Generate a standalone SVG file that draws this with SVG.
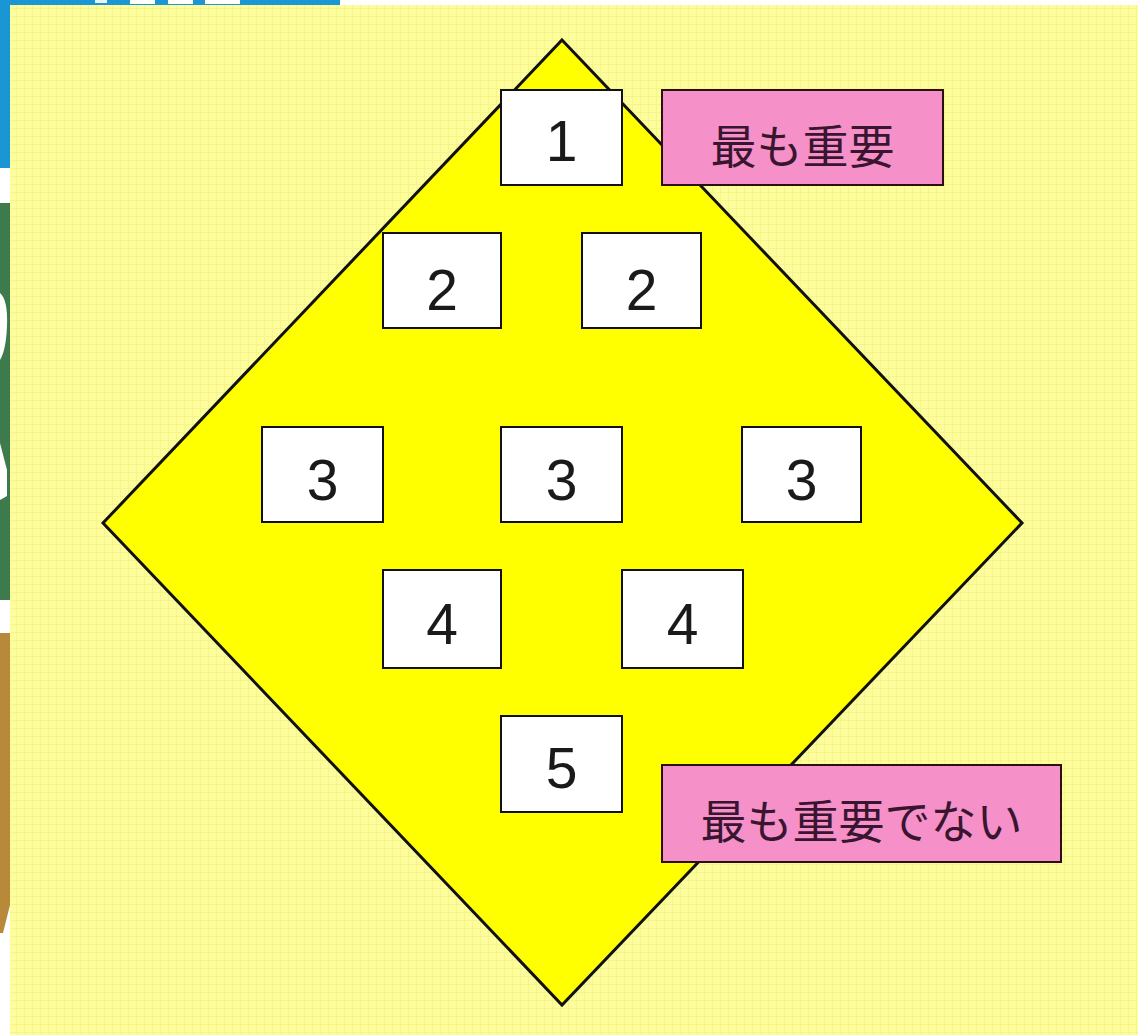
<svg xmlns="http://www.w3.org/2000/svg" width="1138" height="1035" viewBox="0 0 1138 1035">
<style>
.box{fill:#ffffff;stroke:#111111;stroke-width:2}
.num{font-family:"Liberation Sans",Arial,sans-serif;font-size:57px;fill:#1a1a1a;text-anchor:middle;dominant-baseline:central}
.lab{fill:#f590c8;stroke:#2a1010;stroke-width:2}
.jp{font-family:"Noto Sans CJK JP","Noto Sans",sans-serif;font-size:46px;fill:#3a1530;text-anchor:middle;dominant-baseline:central}
</style>
<defs>
<pattern id="grid" width="8" height="8" patternUnits="userSpaceOnUse">
<rect width="8" height="8" fill="#fdfd9e"/>
<path d="M0 0.5H8M0.5 0V8" stroke="#f2f27a" stroke-width="1" opacity="0.6"/>
</pattern>
</defs>
<rect width="1138" height="1035" fill="#ffffff"/>
<g id="edge-strips">
<rect x="0" y="0" width="340" height="5" fill="#1a96d4"/>
<rect x="95" y="0" width="12" height="3" fill="#e8f2fa"/>
<rect x="130" y="0" width="25" height="4" fill="#ffffff"/>
<rect x="168" y="0" width="25" height="4" fill="#ffffff"/>
<rect x="205" y="0" width="35" height="4" fill="#ffffff"/>
<rect x="0" y="0" width="10" height="168" fill="#1a96d4"/>
<rect x="0" y="203" width="10" height="397" fill="#3d7a4c"/>
<path d="M0 293 Q8 300 7 326 Q6 350 0 360 Z" fill="#ffffff"/>
<path d="M0 443 L7 470 L7 496 L0 500 Z" fill="#ffffff"/>
<path d="M0 633 L10 633 L10 905 L3 933 L0 933 Z" fill="#b8893a"/>
</g>
<rect x="10" y="5" width="1128" height="1030" fill="url(#grid)"/>
<g id="diamond">
<polygon points="562,40 1022,523 562,1005 103,523" fill="#ffff00" stroke="#111111" stroke-width="3" stroke-linejoin="miter"/>
</g>
<g id="connectors"></g>
<g id="n1"><rect class="box" x="501" y="90" width="121" height="95"/><text class="num" x="561.5" y="141">1</text></g>
<g id="n2a"><rect class="box" x="383" y="233" width="118" height="95"/><text class="num" x="442" y="290">2</text></g>
<g id="n2b"><rect class="box" x="582" y="233" width="119" height="95"/><text class="num" x="641.5" y="290">2</text></g>
<g id="n3a"><rect class="box" x="262" y="427" width="121" height="95"/><text class="num" x="322.5" y="480">3</text></g>
<g id="n3b"><rect class="box" x="501" y="427" width="121" height="95"/><text class="num" x="561.5" y="480">3</text></g>
<g id="n3c"><rect class="box" x="742" y="427" width="119" height="95"/><text class="num" x="801.5" y="480">3</text></g>
<g id="n4a"><rect class="box" x="383" y="570" width="118" height="98"/><text class="num" x="442" y="624">4</text></g>
<g id="n4b"><rect class="box" x="622" y="570" width="121" height="98"/><text class="num" x="682.5" y="624">4</text></g>
<g id="n5"><rect class="box" x="501" y="716" width="121" height="96"/><text class="num" x="561.5" y="768">5</text></g>
<g id="label-top"><rect class="lab" x="662" y="90" width="281" height="95"/><text class="jp" x="802.5" y="143">最も重要</text></g>
<g id="label-bottom"><rect class="lab" x="662" y="765" width="399" height="97"/><text class="jp" x="861.5" y="818">最も重要でない</text></g>
</svg>
